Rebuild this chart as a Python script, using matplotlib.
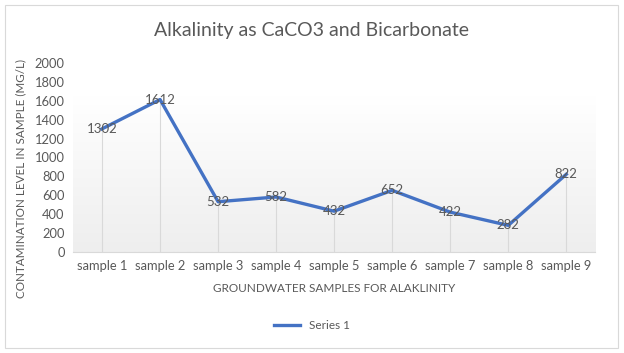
import numpy as np
import matplotlib
matplotlib.use("Agg")
import matplotlib.pyplot as plt
from matplotlib.patches import Rectangle

# dados
samples = ["sample 1", "sample 2", "sample 3", "sample 4", "sample 5",
           "sample 6", "sample 7", "sample 8", "sample 9"]
alkalinity = [1302, 1612, 532, 582, 432, 652, 422, 282, 822]
yticks = [0, 200, 400, 600, 800, 1000, 1200, 1400, 1600, 1800, 2000]

plt.rcParams['font.family'] = ['Lato', 'DejaVu Sans']
gray = '#595959'

fig = plt.figure(figsize=(6.24, 3.53), dpi=100)
fig.patches.append(Rectangle((0.008, 0.015), 0.982, 0.97, transform=fig.transFigure,
                             fill=False, edgecolor='#d9d9d9', lw=0.8))

ax = fig.add_axes([0.117, 0.286, 0.837, 0.536])
x = np.arange(len(samples))

# fundo em degradê
grad = np.linspace(0, 1, 100).reshape(-1, 1)
ax.imshow(grad, extent=(-0.5, 8.5, 0, 1650), aspect='auto', origin='upper',
          cmap=matplotlib.colors.LinearSegmentedColormap.from_list('g', ['#ffffff', '#eeeeee']),
          zorder=0)

ax.vlines(x, 0, alkalinity, color='#d9d9d9', lw=0.8, zorder=1)
line, = ax.plot(x, alkalinity, color='#4472C4', lw=2.4, zorder=3, label='Series 1')
for xi, v in zip(x, alkalinity):
    ax.text(xi, v, str(v), ha='center', va='center', fontsize=9.5, color=gray, zorder=4)

ax.set_xlim(-0.5, 8.5)
ax.set_ylim(0, 2000)
ax.set_yticks(yticks)
ax.set_xticks(x)
ax.set_xticklabels(samples)
ax.tick_params(axis='both', length=0, labelsize=9.3, colors=gray, pad=6)
for s in ['top', 'right', 'left']:
    ax.spines[s].set_visible(False)
ax.spines['bottom'].set_color('#d9d9d9')

ax.set_xlabel("GROUNDWATER SAMPLES FOR ALAKLINITY", fontsize=8.5, color=gray, labelpad=8)
ax.set_ylabel("CONTAMINATION LEVEL IN SAMPLE (MG/L)", fontsize=8.4, color=gray)
ax.yaxis.set_label_coords(-0.09, 0.39)
fig.text(0.5, 0.915, "Alkalinity as CaCO3 and Bicarbonate", ha='center', va='center',
         fontsize=14, color=gray)

fig.legend(handles=[line], loc='center', bbox_to_anchor=(0.5, 0.078), frameon=False,
           fontsize=8.5, labelcolor=gray, handlelength=2.2)

fig.savefig("out.png", dpi=100)
